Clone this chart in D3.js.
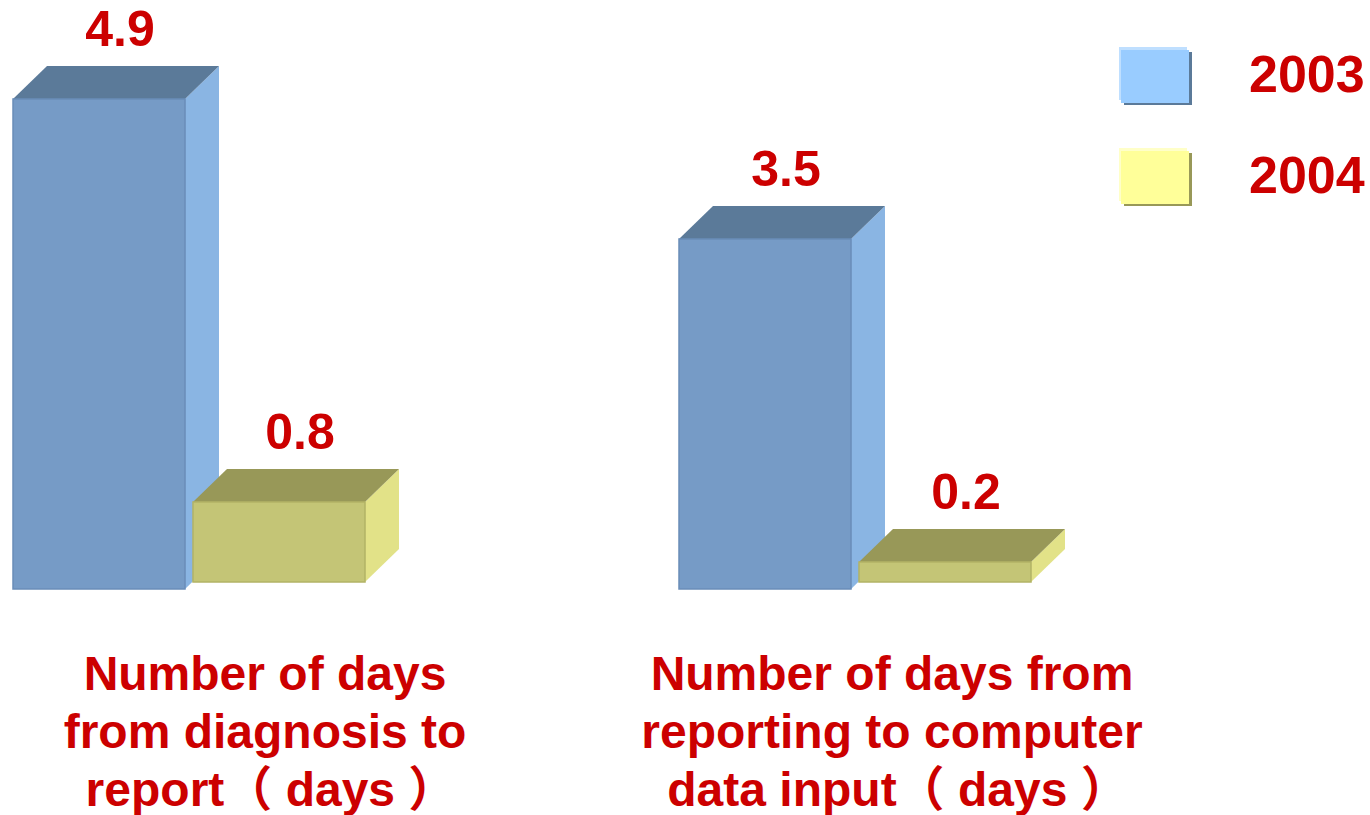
<!DOCTYPE html>
<html>
<head>
<meta charset="utf-8">
<script src="https://cdn.jsdelivr.net/npm/d3@7"></script>
<style>
  body { margin: 0; background: #fff; }
  text { font-family: "Liberation Sans", Arial, "Noto Sans CJK SC", sans-serif; font-weight: bold; }
</style>
</head>
<body>
<div id="chart"></div>
<script>
// data fran bilden
var categories = ["diag", "input"];
var categoryLines = [
    ["Number of days", "from diagnosis to", "report\uFF08 days \uFF09"],
    ["Number of days from", "reporting to computer", "data input\uFF08 days \uFF09"]
];
var seriesNames = ["2003", "2004"];
var values2003 = [4.9, 3.5];
var values2004 = [0.8, 0.2];

// storlek
var width = 1370;
var height = 815;
var depthX = 34, depthY = -33; // 3d-djup
var red = "#CC0000";

// farger per serie: front, topp, sida
var faceColors = {
    "2003": { front: "#769BC6", top: "#5B7A99", side: "#8AB5E3", edge: "#6A8DB8", legend: "#99CCFF", shadow: "#5B7A99", light: "#BFDFFF" },
    "2004": { front: "#C4C576", top: "#989858", side: "#E2E288", edge: "#B2B366", legend: "#FFFF99", shadow: "#989858", light: "#FFFFC8" }
};
var baseShift = { "2003": 0, "2004": -7 }; // gula staplar star lite hogre upp

var svg = d3.select('#chart')
    .append('svg')
    .attr('width', width)
    .attr('height', height);

// skalor
var x0 = d3.scaleBand()
    .domain(categories)
    .range([13, 13 + 666 * 2]);
var x1 = d3.scaleBand()
    .domain(seriesNames)
    .range([0, 352])
    .paddingInner(0.0444);
var y = d3.scaleLinear()
    .domain([0, 5])
    .range([589, 89]);

var bars = [];
categories.forEach(function (c, i) {
    bars.push({ cat: c, s: "2003", v: values2003[i] });
    bars.push({ cat: c, s: "2004", v: values2004[i] });
});

var g = svg.selectAll('g.bar')
    .data(bars).enter()
    .append('g')
    .attr('class', 'bar')
    .attr('transform', function (d) {
        return 'translate(' + (x0(d.cat) + x1(d.s)) + ',' + baseShift[d.s] + ')';
    });

var bw = x1.bandwidth();

// sidan
g.append('path')
    .attr('d', function (d) {
        var t = y(d.v), b = y(0);
        return 'M' + bw + ',' + t + 'L' + (bw + depthX) + ',' + (t + depthY) +
            'L' + (bw + depthX) + ',' + (b + depthY) + 'L' + bw + ',' + b + 'Z';
    })
    .style('fill', function (d) { return faceColors[d.s].side; });

// toppen
g.append('path')
    .attr('d', function (d) {
        var t = y(d.v);
        return 'M0,' + t + 'L' + depthX + ',' + (t + depthY) +
            'L' + (bw + depthX) + ',' + (t + depthY) + 'L' + bw + ',' + t + 'Z';
    })
    .style('fill', function (d) { return faceColors[d.s].top; });

// fronten
g.append('rect')
    .attr('x', 0)
    .attr('y', function (d) { return y(d.v); })
    .attr('width', bw)
    .attr('height', function (d) { return y(0) - y(d.v); })
    .style('fill', function (d) { return faceColors[d.s].front; })
    .style('stroke', function (d) { return faceColors[d.s].edge; })
    .style('stroke-width', 1.5);

// etiketter
g.append('text')
    .attr('x', (bw + depthX) / 2 + 4)
    .attr('y', function (d) { return y(d.v) + depthY - 20; })
    .attr('text-anchor', 'middle')
    .style('font-size', '50px')
    .style('fill', red)
    .text(function (d) { return d.v.toFixed(1); });

// kategoritexter, tre rader var
var labelShift = [252, 213];
var lineShift = [0, 0, 6]; // sista raden har breda parenteser
categories.forEach(function (c, i) {
    var cx = x0(c) + labelShift[i];
    categoryLines[i].forEach(function (line, j) {
        svg.append('text')
            .attr('class', 'cat')
            .attr('x', cx + lineShift[j])
            .attr('y', 690 + j * 58)
            .attr('text-anchor', 'middle')
            .style('font-size', '48px')
            .style('fill', red)
            .text(line);
    });
});

// legend
var legendY = d3.scaleBand().domain(seriesNames).range([47, 249]);
var lg = svg.selectAll('g.legend')
    .data(seriesNames).enter()
    .append('g')
    .attr('class', 'legend')
    .attr('transform', function (d) { return 'translate(1119,' + legendY(d) + ')'; });
lg.append('rect')
    .attr('x', 5).attr('y', 5).attr('width', 68).attr('height', 53)
    .style('fill', function (d) { return faceColors[d].shadow; });
lg.append('rect')
    .attr('x', 0).attr('y', 0).attr('width', 68).attr('height', 53)
    .style('fill', function (d) { return faceColors[d].light; });
lg.append('rect')
    .attr('x', 2).attr('y', 3).attr('width', 68).attr('height', 53)
    .style('fill', function (d) { return faceColors[d].legend; });
lg.append('text')
    .attr('x', 130)
    .attr('y', 45)
    .style('font-size', '52px')
    .style('fill', red)
    .text(function (d) { return d; });
</script>
</body>
</html>
